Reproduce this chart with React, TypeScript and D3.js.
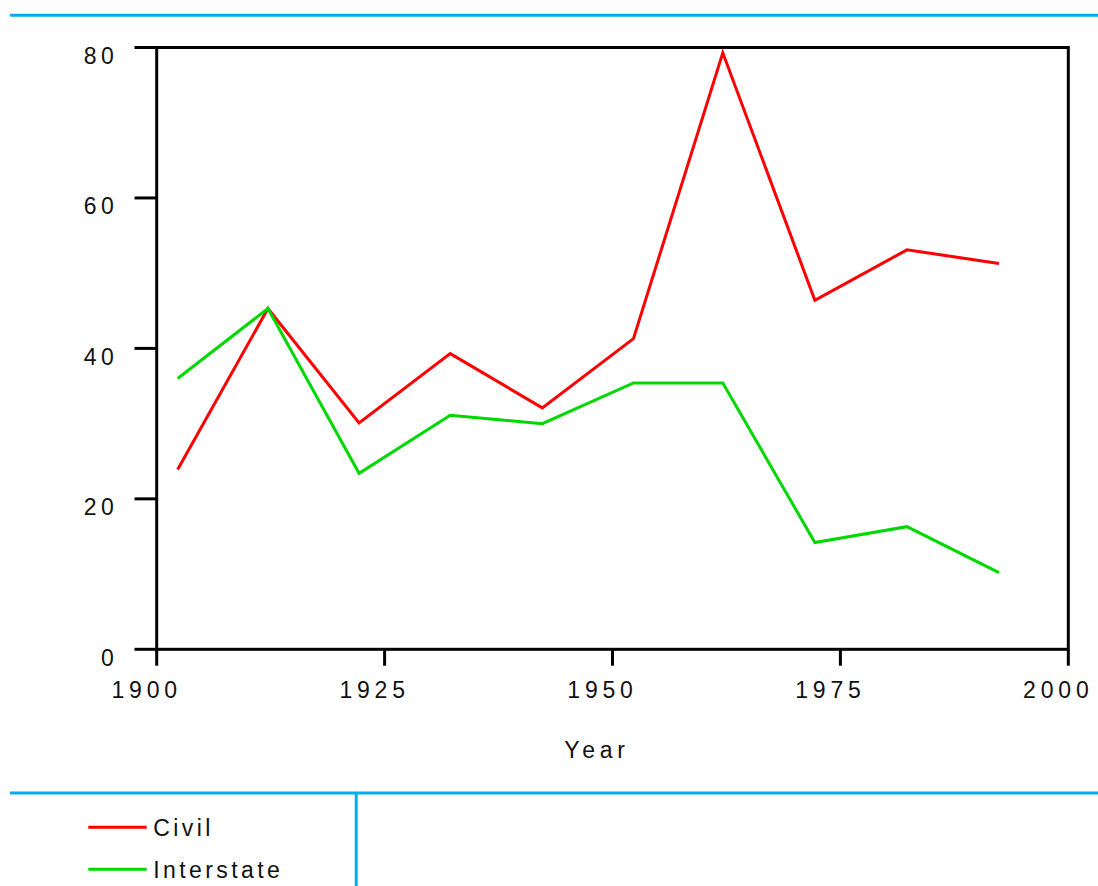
import React from "react";
import * as d3 from "d3";

const years = [1902.3, 1912.2, 1922.2, 1932.2, 1942.3, 1952.3, 1962.1, 1972.2, 1982.3, 1992.4];
const civil = [23.9, 45.3, 30.1, 39.3, 32.1, 41.3, 79.3, 46.4, 53.1, 51.3];
const interstate = [36.0, 45.3, 23.4, 31.1, 30.0, 35.4, 35.4, 14.2, 16.3, 10.2];
const xTicks = [1900, 1925, 1950, 1975, 2000];
const yTicks = [0, 20, 40, 60, 80];
const seriesNames = ["Civil", "Interstate"];
const seriesColors = ["#ff0000", "#00d800"];

const W = 1098;
const H = 886;
const FONT = "'Liberation Sans', Arial, sans-serif";

export default function App() {
  const x = d3.scaleLinear().domain([1900, 2000]).range([156.7, 1068.3]);
  const y = d3.scaleLinear().domain([0, 80]).range([649.3, 47.5]);
  const line = d3
    .line<number>()
    .x((_, i) => x(years[i]))
    .y((d) => y(d));
  const series = [civil, interstate];
  const blue = "#00aeef";

  return (
    <svg
      width={W}
      height={H}
      style={{ position: "absolute", left: 0, top: 0, background: "#fff" }}
      fontFamily={FONT}
    >
      <rect x={0} y={0} width={W} height={H} fill="#fff" />
      {/* blue separators */}
      <line x1={10} x2={W} y1={15.3} y2={15.3} stroke={blue} strokeWidth={3} />
      <line x1={10} x2={W} y1={793} y2={793} stroke={blue} strokeWidth={3} />
      <line x1={356.2} x2={356.2} y1={793} y2={H} stroke={blue} strokeWidth={3} />

      {/* frame */}
      <rect
        x={x(1900)}
        y={y(80)}
        width={x(2000) - x(1900)}
        height={y(0) - y(80)}
        fill="none"
        stroke="#000"
        strokeWidth={3}
      />
      {/* y ticks */}
      {yTicks.map((t) => (
        <g key={"y" + t}>
          <line x1={134.5} x2={x(1900)} y1={y(t)} y2={y(t)} stroke="#000" strokeWidth={3} />
          <text
            x={118}
            y={y(t) + 16.3}
            textAnchor="end"
            fontSize={23}
            letterSpacing={4.3}
            fill="#111"
          >
            {String(t)}
          </text>
        </g>
      ))}
      {/* x ticks */}
      {xTicks.map((t) => (
        <g key={"x" + t}>
          <line x1={x(t)} x2={x(t)} y1={y(0)} y2={665.7} stroke="#000" strokeWidth={3} />
          <text
            x={x(t) - 10}
            y={697.5}
            textAnchor="middle"
            fontSize={23}
            letterSpacing={4.8}
            fill="#111"
          >
            {String(t)}
          </text>
        </g>
      ))}
      <text x={597} y={758.3} textAnchor="middle" fontSize={23} letterSpacing={4.8} fill="#111">
        Year
      </text>

      {/* data lines */}
      {series.map((s, i) => (
        <path
          key={seriesNames[i]}
          d={line(s) || ""}
          fill="none"
          stroke={seriesColors[i]}
          strokeWidth={3}
          strokeLinejoin="miter"
        />
      ))}

      {/* legend */}
      {seriesNames.map((n, i) => {
        const ly = 827.3 + i * 42;
        return (
          <g key={"leg" + n}>
            <line x1={88.3} x2={146.7} y1={ly} y2={ly} stroke={seriesColors[i]} strokeWidth={3} />
            <text x={153.3} y={ly + 8.5} fontSize={23} letterSpacing={3.4} fill="#111">
              {n}
            </text>
          </g>
        );
      })}
    </svg>
  );
}
